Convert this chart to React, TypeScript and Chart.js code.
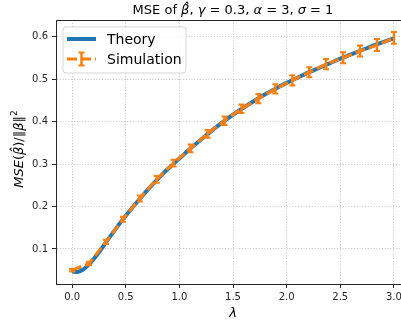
import React, { useEffect, useRef } from "react";
import { Chart, registerables } from "chart.js";

Chart.register(...registerables);

// Theory curve: MSE of the ridge estimator against lambda
const theoryLambda = [0.0, 0.05, 0.1, 0.15, 0.2, 0.25, 0.3, 0.4, 0.5, 0.6, 0.7, 0.8, 0.9, 1.0, 1.1, 1.2, 1.3, 1.4, 1.5, 1.6, 1.7, 1.8, 1.9, 2.0, 2.1, 2.2, 2.3, 2.4, 2.5, 2.6, 2.7, 2.8, 2.9, 3.0];
const theoryValues = [0.047, 0.046, 0.051, 0.062, 0.076, 0.092, 0.110, 0.145, 0.178, 0.209, 0.238, 0.265, 0.290, 0.313, 0.336, 0.357, 0.378, 0.398, 0.416, 0.433, 0.449, 0.464, 0.478, 0.491, 0.503, 0.515, 0.526, 0.537, 0.548, 0.558, 0.568, 0.578, 0.587, 0.596];

// Simulated MSE with standard errors
const simLambda = [0.0, 0.158, 0.316, 0.474, 0.632, 0.789, 0.947, 1.105, 1.263, 1.421, 1.579, 1.737, 1.895, 2.053, 2.211, 2.368, 2.526, 2.684, 2.842, 3.0];
const simValues = [0.050, 0.066, 0.117, 0.170, 0.219, 0.264, 0.302, 0.337, 0.371, 0.402, 0.430, 0.454, 0.477, 0.497, 0.516, 0.535, 0.550, 0.566, 0.580, 0.597];
const simErrors = [0.003, 0.004, 0.005, 0.006, 0.007, 0.008, 0.008, 0.009, 0.009, 0.010, 0.010, 0.011, 0.011, 0.012, 0.012, 0.012, 0.013, 0.013, 0.014, 0.014];

const xTicks = [0.0, 0.5, 1.0, 1.5, 2.0, 2.5, 3.0];
const yTicks = [0.1, 0.2, 0.3, 0.4, 0.5, 0.6];

const BLUE = "#1f77b4";
const ORANGE = "#ff7f0e";
const FONT = "DejaVu Sans";

type Seg = { t: string; it?: boolean; sup?: boolean };

function segFont(s: Seg, size: number) {
  const sz = s.sup ? Math.round(size * 0.7) : size;
  return `${s.it ? "italic " : ""}${sz}px "${FONT}"`;
}

function measureSegs(ctx: CanvasRenderingContext2D, segs: Seg[], size: number) {
  let w = 0;
  for (const s of segs) {
    ctx.font = segFont(s, size);
    w += ctx.measureText(s.t).width;
  }
  return w;
}

function drawSegs(ctx: CanvasRenderingContext2D, segs: Seg[], size: number, x: number, y: number) {
  let cx = x;
  for (const s of segs) {
    ctx.font = segFont(s, size);
    ctx.fillText(s.t, cx, s.sup ? y - size * 0.4 : y);
    cx += ctx.measureText(s.t).width;
  }
}

const titleSegs: Seg[] = [
  { t: "MSE of " },
  { t: "\u03b2\u0302", it: true },
  { t: ", " },
  { t: "\u03b3", it: true },
  { t: " = 0.3, " },
  { t: "\u03b1", it: true },
  { t: " = 3, " },
  { t: "\u03c3", it: true },
  { t: " = 1" },
];

const yLabelSegs: Seg[] = [
  { t: "MSE", it: true },
  { t: "(" },
  { t: "\u03b2\u0302", it: true },
  { t: ")/\u2016" },
  { t: "\u03b2", it: true },
  { t: "\u2016" },
  { t: "2", sup: true },
];

const decorations = {
  id: "decorations",
  afterDatasetsDraw(chart: any) {
    const { ctx, scales } = chart;
    const x = scales.x;
    const y = scales.y;
    // error bars of the simulation
    ctx.save();
    ctx.strokeStyle = ORANGE;
    ctx.setLineDash([]);
    simLambda.forEach((l, i) => {
      const px = x.getPixelForValue(l);
      const top = y.getPixelForValue(simValues[i] + simErrors[i]);
      const bot = y.getPixelForValue(simValues[i] - simErrors[i]);
      ctx.lineWidth = 2.5;
      ctx.beginPath();
      ctx.moveTo(px, top);
      ctx.lineTo(px, bot);
      ctx.stroke();
      ctx.lineWidth = 2;
      ctx.beginPath();
      ctx.moveTo(px - 3, top);
      ctx.lineTo(px + 3, top);
      ctx.moveTo(px - 3, bot);
      ctx.lineTo(px + 3, bot);
      ctx.stroke();
    });
    ctx.restore();
  },
  afterDraw(chart: any) {
    const { ctx, chartArea } = chart;
    const { left, right, top, bottom } = chartArea;
    ctx.save();
    // top spine
    ctx.strokeStyle = "#262626";
    ctx.lineWidth = 1;
    ctx.beginPath();
    ctx.moveTo(left, Math.round(top) + 0.5);
    ctx.lineTo(right, Math.round(top) + 0.5);
    ctx.stroke();

    ctx.fillStyle = "#000";
    ctx.textBaseline = "alphabetic";
    ctx.textAlign = "left";

    // title
    const cx = (left + right) / 2;
    const tw = measureSegs(ctx, titleSegs, 13);
    drawSegs(ctx, titleSegs, 13, cx - tw / 2, 14);

    // x label
    ctx.font = `italic 13px "${FONT}"`;
    ctx.textAlign = "center";
    ctx.fillText("\u03bb", cx, 317);
    ctx.textAlign = "left";

    // y label
    ctx.save();
    ctx.translate(22.5, (top + bottom) / 2 - 3);
    ctx.rotate(-Math.PI / 2);
    const yw = measureSegs(ctx, yLabelSegs, 13);
    drawSegs(ctx, yLabelSegs, 13, -yw / 2, 0);
    ctx.restore();

    // legend
    const lx = 63, ly = 27, lw = 123, lh = 46, r = 3;
    ctx.beginPath();
    ctx.moveTo(lx + r, ly);
    ctx.arcTo(lx + lw, ly, lx + lw, ly + lh, r);
    ctx.arcTo(lx + lw, ly + lh, lx, ly + lh, r);
    ctx.arcTo(lx, ly + lh, lx, ly, r);
    ctx.arcTo(lx, ly, lx + lw, ly, r);
    ctx.closePath();
    ctx.fillStyle = "rgba(255,255,255,0.8)";
    ctx.fill();
    ctx.strokeStyle = "rgba(204,204,204,0.8)";
    ctx.lineWidth = 1;
    ctx.stroke();

    // Theory handle
    ctx.strokeStyle = BLUE;
    ctx.lineWidth = 4;
    ctx.beginPath();
    ctx.moveTo(67, 39);
    ctx.lineTo(96, 39);
    ctx.stroke();

    // Simulation handle
    ctx.strokeStyle = ORANGE;
    ctx.lineWidth = 3;
    ctx.setLineDash([10, 4]);
    ctx.beginPath();
    ctx.moveTo(67, 59);
    ctx.lineTo(96, 59);
    ctx.stroke();
    ctx.setLineDash([]);
    ctx.lineWidth = 2.5;
    ctx.beginPath();
    ctx.moveTo(81.5, 52.5);
    ctx.lineTo(81.5, 65.5);
    ctx.stroke();
    ctx.lineWidth = 2;
    ctx.beginPath();
    ctx.moveTo(78.5, 52.5);
    ctx.lineTo(84.5, 52.5);
    ctx.moveTo(78.5, 65.5);
    ctx.lineTo(84.5, 65.5);
    ctx.stroke();

    ctx.fillStyle = "#000";
    ctx.font = `14px "${FONT}"`;
    ctx.fillText("Theory", 107, 44);
    ctx.fillText("Simulation", 107, 64);
    ctx.restore();
  },
};

export default function App() {
  const canvasRef = useRef<HTMLCanvasElement | null>(null);

  useEffect(() => {
    const canvas = canvasRef.current;
    if (!canvas) return;
    Chart.defaults.font.family = FONT;

    const chart = new Chart(canvas, {
      type: "line",
      data: {
        datasets: [
          {
            label: "Theory",
            data: theoryLambda.map((l, i) => ({ x: l, y: theoryValues[i] })),
            borderColor: BLUE,
            borderWidth: 4,
            pointRadius: 0,
            cubicInterpolationMode: "monotone",
            order: 2,
          },
          {
            label: "Simulation",
            data: simLambda.map((l, i) => ({ x: l, y: simValues[i] })),
            borderColor: ORANGE,
            borderWidth: 3,
            borderDash: [10, 4],
            pointRadius: 0,
            tension: 0,
            order: 1,
          },
        ],
      },
      options: {
        animation: false,
        responsive: false,
        devicePixelRatio: 1,
        layout: { padding: { top: 20, right: 10, left: 0, bottom: 0 } },
        plugins: {
          legend: { display: false },
          title: { display: false },
          tooltip: { enabled: false },
        },
        scales: {
          x: {
            type: "linear",
            min: -0.15,
            max: 3.15,
            afterBuildTicks: (scale: any) => {
              scale.ticks = xTicks.map((v) => ({ value: v }));
            },
            afterFit: (scale: any) => {
              scale.height = 38;
            },
            ticks: {
              autoSkip: false,
              maxRotation: 0,
              padding: 3,
              color: "#262626",
              font: { size: 10, family: FONT },
              callback: (v: any) => Number(v).toFixed(1),
            },
            grid: {
              color: "rgba(176,176,176,0.8)",
              lineWidth: 0.8,
              tickColor: "#262626",
              tickLength: 4,
              tickWidth: 1,
              tickBorderDash: [],
            },
            border: { display: true, color: "#262626", width: 1, dash: [1.2, 1.6] },
          },
          y: {
            type: "linear",
            min: 0.0176,
            max: 0.639,
            afterBuildTicks: (scale: any) => {
              scale.ticks = yTicks.map((v) => ({ value: v }));
            },
            afterFit: (scale: any) => {
              scale.width = 56;
            },
            ticks: {
              autoSkip: false,
              padding: 4,
              color: "#262626",
              font: { size: 10, family: FONT },
              callback: (v: any) => Number(v).toFixed(1),
            },
            grid: {
              color: "rgba(176,176,176,0.8)",
              lineWidth: 0.8,
              tickColor: "#262626",
              tickLength: 4,
              tickWidth: 1,
              tickBorderDash: [],
            },
            border: { display: true, color: "#262626", width: 1, dash: [1.2, 1.6] },
          },
        },
      },
      plugins: [decorations],
    });

    return () => chart.destroy();
  }, []);

  return (
    <div
      style={{
        position: "absolute",
        left: 0,
        top: 0,
        width: 401,
        height: 322,
        overflow: "hidden",
        background: "#fff",
      }}
    >
      <canvas ref={canvasRef} width={420} height={322} style={{ display: "block" }} />
    </div>
  );
}
